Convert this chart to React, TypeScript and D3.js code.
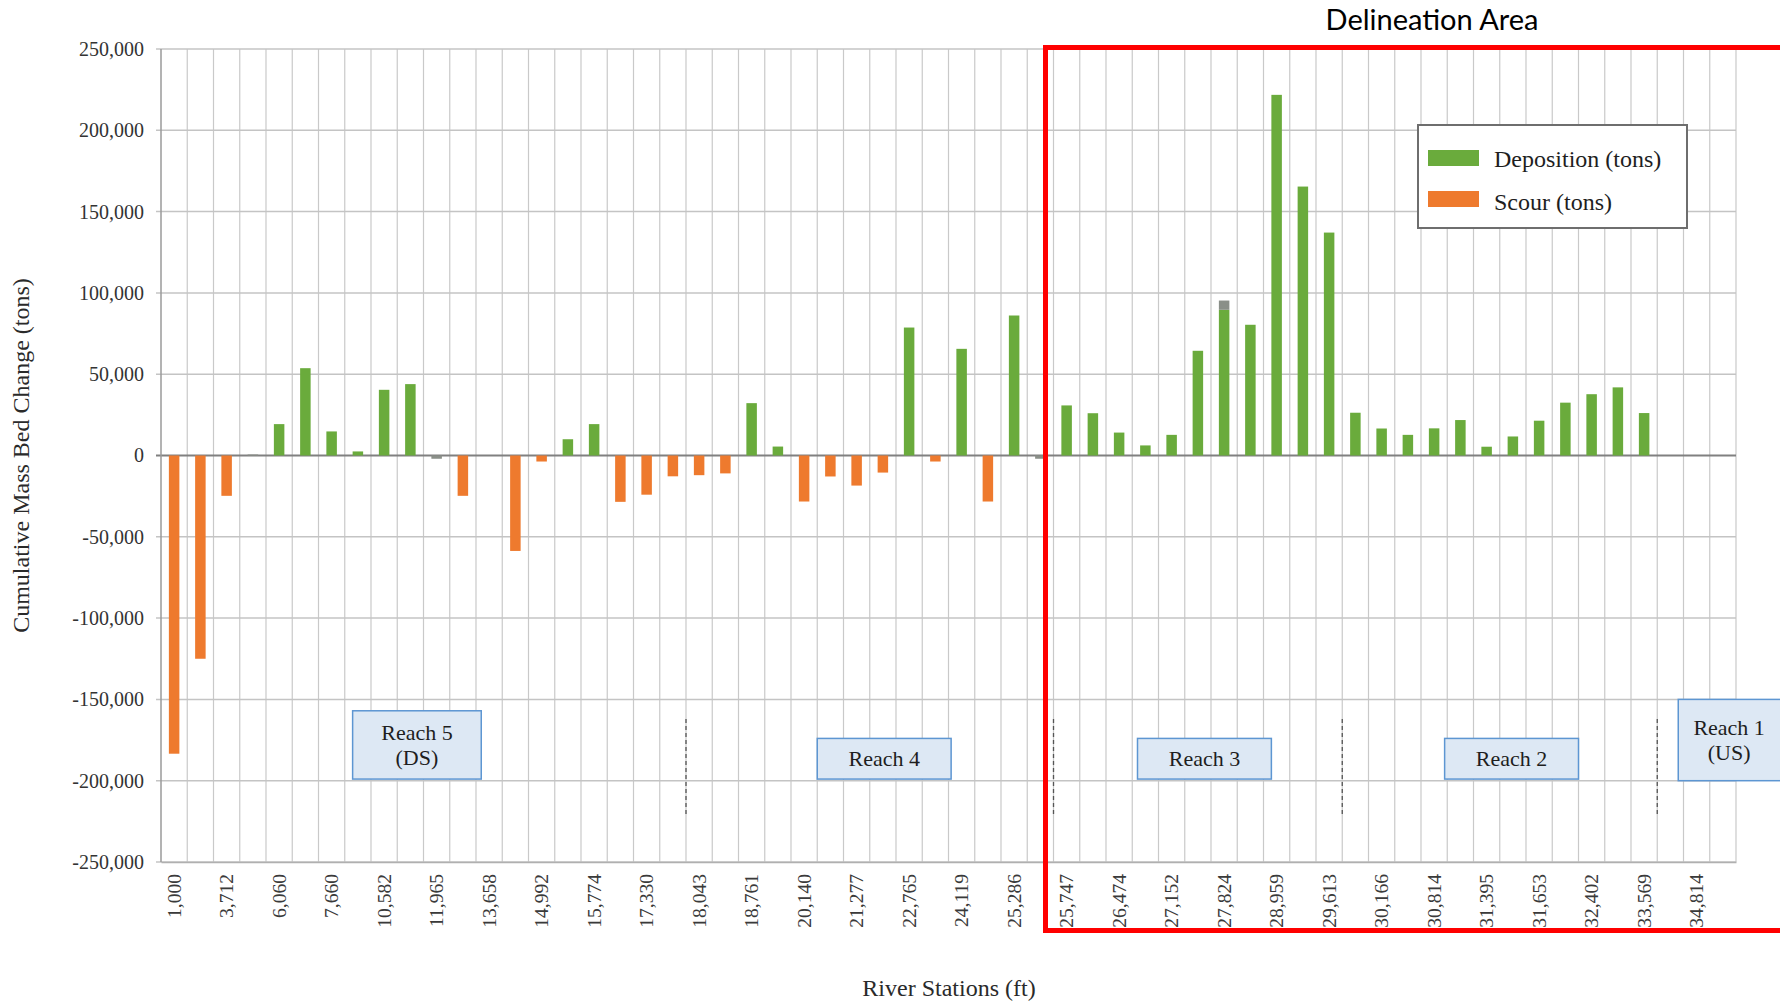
import { useEffect, useRef } from 'react';
import * as d3 from 'd3';

// river station labels (every second cross section is labelled)
const stationLabels = [
  '1,000', '3,712', '6,060', '7,660', '10,582', '11,965', '13,658', '14,992', '15,774', '17,330',
  '18,043', '18,761', '20,140', '21,277', '22,765', '24,119', '25,286', '25,747', '26,474', '27,152',
  '27,824', '28,959', '29,613', '30,166', '30,814', '31,395', '31,653', '32,402', '33,569', '34,814',
];

// cumulative deposition per cross section (tons)
const deposition = [
  0, 0, 0, 0, 19300, 53700, 14800, 2500, 40400, 43900,
  0, 0, 0, 0, 0, 10000, 19300, 0, 0, 0,
  0, 0, 32200, 5500, 0, 0, 0, 0, 78700, 0,
  65600, 0, 86100, 0, 30800, 26000, 14100, 6200, 12700, 64400,
  89600, 80400, 221800, 165400, 137100, 26300, 16600, 12700, 16700, 21800,
  5400, 11700, 21400, 32500, 37700, 41900, 26100, 0, 0, 0,
];

// cumulative scour per cross section (tons)
const scour = [
  -183400, -125000, -24800, 0, 0, 0, 0, 0, 0, 0,
  0, -24800, 0, -58700, -3700, 0, 0, -28500, -24100, -12800,
  -12100, -11000, 0, 0, -28300, -12900, -18500, -10500, 0, -3700,
  0, -28300, 0, 0, 0, 0, 0, 0, 0, 0,
  0, 0, 0, 0, 0, 0, 0, 0, 0, 0,
  0, 0, 0, 0, 0, 0, 0, 0, 0, 0,
];

// small grey (net / unclassified) pieces visible on a few bars
const other = [
  0, 0, 0, 600, 0, 0, 0, 0, 0, 0,
  -2000, 0, 0, 0, 0, 0, 0, 0, 0, 0,
  0, 0, 0, 0, 0, 0, 0, 0, 0, 0,
  0, 0, 0, -2000, 0, 0, 0, 0, 0, 0,
  5700, 0, 0, 0, 0, 0, 0, 0, 0, 0,
  0, 0, 0, 0, 0, 0, 0, 0, 0, 0,
];

const yTicks = [-250000, -200000, -150000, -100000, -50000, 0, 50000, 100000, 150000, 200000, 250000];

const reachNames = [['Reach 5', '(DS)'], ['Reach 4'], ['Reach 3'], ['Reach 2'], ['Reach 1', '(US)']];
const reachDividers = [20, 34, 45, 57];

const serif = "'Liberation Serif', 'Times New Roman', serif";

const App = () => {
  const ref = useRef<SVGSVGElement | null>(null);

  useEffect(() => {
    const svg = d3.select(ref.current);
    svg.selectAll('*').remove();
    const width = 1780;
    const height = 1002;
    const margin = { top: 49, right: 44, bottom: 140, left: 161 };
    const innerWidth = width - margin.left - margin.right;
    const innerHeight = height - margin.top - margin.bottom;

    const n = deposition.length;
    const xScale = d3.scaleBand<number>().domain(d3.range(n)).range([0, innerWidth]);
    const yScale = d3.scaleLinear().domain([-250000, 250000]).range([innerHeight, 0]);
    const bw = xScale.bandwidth();
    const barW = bw * 0.4;
    const fmt = (d: number) => (d < 0 ? '-' : '') + d3.format(',')(Math.abs(d));

    svg.append('rect').attr('width', width).attr('height', height).attr('fill', '#fff');

    const g = svg.append('g').attr('transform', `translate(${margin.left},${margin.top})`);

    // vertical grid at every cross section boundary
    g.append('g')
      .selectAll('line')
      .data(d3.range(1, n + 1))
      .enter().append('line')
      .attr('x1', (d) => d * bw).attr('x2', (d) => d * bw)
      .attr('y1', 0).attr('y2', innerHeight)
      .attr('stroke', '#c9c9c9').attr('stroke-width', 1.2);

    // horizontal grid
    g.append('g')
      .selectAll('line')
      .data(yTicks)
      .enter().append('line')
      .attr('x1', -5).attr('x2', innerWidth)
      .attr('y1', (d) => yScale(d)).attr('y2', (d) => yScale(d))
      .attr('stroke', (d) => (d === 0 ? '#808080' : '#c4c4c4'))
      .attr('stroke-width', (d) => (d === 0 ? 2.2 : 1.5));

    // left axis line
    g.append('line')
      .attr('x1', 0).attr('x2', 0).attr('y1', 0).attr('y2', innerHeight)
      .attr('stroke', '#9a9a9a').attr('stroke-width', 1.5);

    // y axis labels
    const yAxis = d3.axisLeft(yScale).tickValues(yTicks).tickFormat((d) => fmt(+d)).tickSize(0).tickPadding(17);
    const yAxisG = g.append('g').call(yAxis);
    yAxisG.select('.domain').remove();
    yAxisG.selectAll('text')
      .style('font-family', serif).style('font-size', '20px').attr('fill', '#333');

    // x axis labels
    const xAxis = d3.axisBottom(xScale)
      .tickValues(d3.range(0, n, 2))
      .tickFormat((d) => stationLabels[+d / 2])
      .tickSize(0);
    const xAxisG = g.append('g').attr('transform', `translate(0,${innerHeight})`).call(xAxis);
    xAxisG.select('.domain').attr('stroke', '#b0b0b0').attr('stroke-width', 1.5);
    xAxisG.selectAll('text')
      .attr('transform', 'rotate(-90)')
      .attr('x', -12).attr('y', 0).attr('dy', '0.35em')
      .attr('text-anchor', 'end')
      .style('font-family', serif).style('font-size', '19.5px').attr('fill', '#3a3a3a');

    // bars
    const bars = g.append('g');
    const barX = (i: number) => (xScale(i) as number) + (bw - barW) / 2;
    bars.selectAll('rect.dep')
      .data(deposition.map((v, i) => ({ v, i })).filter((d) => d.v > 0))
      .enter().append('rect').attr('class', 'dep')
      .attr('x', (d) => barX(d.i)).attr('width', barW)
      .attr('y', (d) => yScale(d.v)).attr('height', (d) => yScale(0) - yScale(d.v))
      .attr('fill', '#6aab3c');
    bars.selectAll('rect.sc')
      .data(scour.map((v, i) => ({ v, i })).filter((d) => d.v < 0))
      .enter().append('rect').attr('class', 'sc')
      .attr('x', (d) => barX(d.i)).attr('width', barW)
      .attr('y', yScale(0)).attr('height', (d) => yScale(d.v) - yScale(0))
      .attr('fill', '#ee7a2e');
    bars.selectAll('rect.oth')
      .data(other.map((v, i) => ({ v, i })).filter((d) => d.v !== 0))
      .enter().append('rect').attr('class', 'oth')
      .attr('x', (d) => barX(d.i)).attr('width', barW)
      .attr('y', (d) => (d.v > 0 ? yScale(deposition[d.i] + d.v) : yScale(scour[d.i])))
      .attr('height', (d) => Math.abs(yScale(0) - yScale(d.v)))
      .attr('fill', '#8a8f88');

    // reach dividers (dashed)
    g.append('g')
      .selectAll('line')
      .data(reachDividers)
      .enter().append('line')
      .attr('x1', (d) => d * bw).attr('x2', (d) => d * bw)
      .attr('y1', yScale(-162000)).attr('y2', yScale(-222000))
      .attr('stroke', '#555').attr('stroke-width', 1.3).attr('stroke-dasharray', '4,3');

    // reach label boxes
    const boxSpan = [[7.3, 12.2, -157000, -199000], [25.0, 30.1, -174000, -199000], [37.2, 42.3, -174000, -199000], [48.9, 54.0, -174000, -199000], [57.8, 62, -150000, -200000]];
    reachNames.forEach((lines, k) => {
      const [a, b, top, bot] = boxSpan[k];
      const x0 = a * bw, x1 = b * bw, y0 = yScale(top), y1 = yScale(bot);
      g.append('rect')
        .attr('x', x0).attr('y', y0).attr('width', x1 - x0).attr('height', y1 - y0)
        .attr('fill', '#dde8f4').attr('stroke', '#5d96d2').attr('stroke-width', 1.5);
      const cy = (y0 + y1) / 2;
      lines.forEach((t, j) => {
        g.append('text').text(t)
          .attr('x', (x0 + Math.min(x1, width - margin.left)) / 2)
          .attr('y', cy + (j - (lines.length - 1) / 2) * 25)
          .attr('dy', '0.35em').attr('text-anchor', 'middle')
          .style('font-family', serif).style('font-size', '22px').attr('fill', '#1e1e1e');
      });
    });

    // axis titles
    svg.append('text').text('River Stations (ft)')
      .attr('x', 949).attr('y', 996)
      .attr('text-anchor', 'middle')
      .style('font-family', serif).style('font-size', '24px').attr('fill', '#2a2a2a');
    svg.append('text').text('Cumulative Mass Bed Change (tons)')
      .attr('transform', `translate(29,${margin.top + yScale(0)}) rotate(-90)`)
      .attr('text-anchor', 'middle')
      .style('font-family', serif).style('font-size', '24px').attr('fill', '#2a2a2a');

    // legend
    const lg = svg.append('g').attr('transform', 'translate(1418,125)');
    lg.append('rect').attr('width', 269).attr('height', 103)
      .attr('fill', '#fff').attr('stroke', '#6e6e6e').attr('stroke-width', 2);
    [['Deposition (tons)', '#6aab3c'], ['Scour (tons)', '#ee7a2e']].forEach(([label, c], k) => {
      lg.append('rect').attr('x', 10).attr('y', 25 + k * 41).attr('width', 51).attr('height', 16).attr('fill', c);
      lg.append('text').text(label)
        .attr('x', 76).attr('y', 42 + k * 43)
        .style('font-family', serif).style('font-size', '24px').attr('fill', '#1e1e1e');
    });

    // delineation area frame
    svg.append('rect')
      .attr('x', 1045.5).attr('y', 47.5).attr('width', 800).attr('height', 883)
      .attr('fill', 'none').attr('stroke', '#ff0000').attr('stroke-width', 5);
    svg.append('text').text('Delineation Area')
      .attr('x', 1432).attr('y', 30)
      .attr('text-anchor', 'middle')
      .style('font-family', "Lato, 'Liberation Sans', sans-serif").style('font-size', '29px').attr('fill', '#000');
  }, []);

  return (
    <div>
      <svg ref={ref} width={1780} height={1002} style={{ position: 'absolute', left: 0, top: 0 }} />
    </div>
  );
};

export default App;
